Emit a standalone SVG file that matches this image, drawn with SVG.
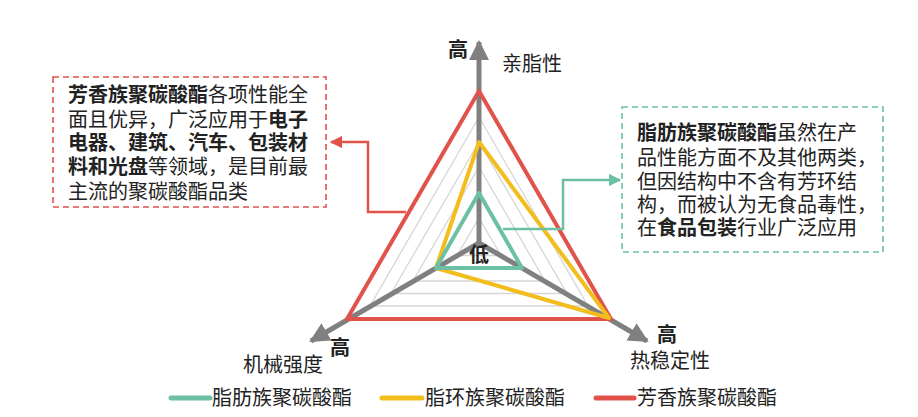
<svg xmlns="http://www.w3.org/2000/svg" width="918" height="417" viewBox="0 0 918 417">
<style>
text{font-family:"Liberation Sans","Noto Sans CJK SC",sans-serif;fill:#222;font-size:20px}
.b{font-weight:bold}
.g{fill:none;stroke:#d6d6d6;stroke-width:1.3}
.ax{stroke:#808080;stroke-width:5;fill:none}
</style>
<defs>
<marker id="ah" viewBox="0 0 10 10" refX="9" refY="5" markerWidth="4" markerHeight="4" orient="auto" markerUnits="strokeWidth"><path d="M0,0L10,5L0,10z" fill="#808080"/></marker>
<marker id="ar" viewBox="0 0 10 10" refX="9" refY="5" markerWidth="5" markerHeight="5" orient="auto" markerUnits="strokeWidth"><path d="M0,0L10,5L0,10z" fill="#e0524a"/></marker>
<marker id="ag" viewBox="0 0 10 10" refX="9" refY="5" markerWidth="5" markerHeight="5" orient="auto" markerUnits="strokeWidth"><path d="M0,0L10,5L0,10z" fill="#6cc0a3"/></marker>
</defs>
<rect width="918" height="417" fill="#fff"/>
<g id="grid">
<polygon class="g" points="479,218 457,255.5 501,255.5"/>
<polygon class="g" points="479,193 436,268 522,268"/>
<polygon class="g" points="479,167 413,281 545,281"/>
<polygon class="g" points="479,142 391,293.5 567,293.5"/>
<polygon class="g" points="479,117 370,306 588,306"/>
</g>
<g id="axes">
<line class="ax" x1="479" y1="243" x2="479" y2="42" marker-end="url(#ah)"/>
<line class="ax" x1="479" y1="243" x2="311" y2="341" marker-end="url(#ah)"/>
<line class="ax" x1="479" y1="243" x2="647" y2="341" marker-end="url(#ah)"/>
</g>
<g id="series">
<polygon points="479,91 347,319 611,319" fill="none" stroke="#e0524a" stroke-width="4" stroke-linejoin="round"/>
<polygon points="479,142 436,268 609,318" fill="none" stroke="#f2bd1d" stroke-width="4" stroke-linejoin="round"/>
<polygon points="479,193 436,268 522,268" fill="none" stroke="#6cc0a3" stroke-width="4" stroke-linejoin="round"/>
</g>
<g id="connectors">
<polyline points="406,212 368,212 368,142 331,142" fill="none" stroke="#e0524a" stroke-width="2.5" marker-end="url(#ar)"/>
<polyline points="503,229 563,229 563,180 620,180" fill="none" stroke="#6cc0a3" stroke-width="2.5" marker-end="url(#ag)"/>
</g>
<g id="labels">
<text x="448" y="57" class="b" font-size="17">高</text>
<text x="502" y="71" font-size="20">亲脂性</text>
<text x="469" y="262" class="b" font-size="18">低</text>
<text x="330" y="355" class="b" font-size="17">高</text>
<text x="243" y="372" font-size="20">机械强度</text>
<text x="657" y="342" class="b" font-size="17">高</text>
<text x="630" y="368" font-size="20">热稳定性</text>
</g>
<g id="box-left">
<rect x="53" y="77" width="273" height="130" fill="none" stroke="#e0524a" stroke-width="1.6" stroke-dasharray="6,4"/>
<text x="68" y="102"><tspan class="b">芳香族聚碳酸酯</tspan>各项性能全</text>
<text x="68" y="127">面且优异，广泛应用于<tspan class="b">电子</tspan></text>
<text x="68" y="150" class="b">电器、建筑、汽车、包装材</text>
<text x="68" y="174"><tspan class="b">料和光盘</tspan>等领域，是目前最</text>
<text x="68" y="199">主流的聚碳酸酯品类</text>
</g>
<g id="box-right">
<rect x="622" y="107" width="261" height="145" fill="none" stroke="#6cc0a3" stroke-width="1.6" stroke-dasharray="6,4"/>
<text x="637" y="140"><tspan class="b">脂肪族聚碳酸酯</tspan>虽然在产</text>
<text x="637" y="165">品性能方面不及其他两类，</text>
<text x="637" y="189">但因结构中不含有芳环结</text>
<text x="637" y="212">构，而被认为无食品毒性，</text>
<text x="637" y="235">在<tspan class="b">食品包装</tspan>行业广泛应用</text>
</g>
<g id="legend">
<line x1="171" y1="398" x2="210" y2="398" stroke="#6cc0a3" stroke-width="5" stroke-linecap="round"/>
<text x="212" y="405">脂肪族聚碳酸酯</text>
<line x1="382" y1="398" x2="422" y2="398" stroke="#f2bd1d" stroke-width="5" stroke-linecap="round"/>
<text x="425" y="405">脂环族聚碳酸酯</text>
<line x1="596" y1="398" x2="634" y2="398" stroke="#e0524a" stroke-width="5" stroke-linecap="round"/>
<text x="637" y="405">芳香族聚碳酸酯</text>
</g>
</svg>
